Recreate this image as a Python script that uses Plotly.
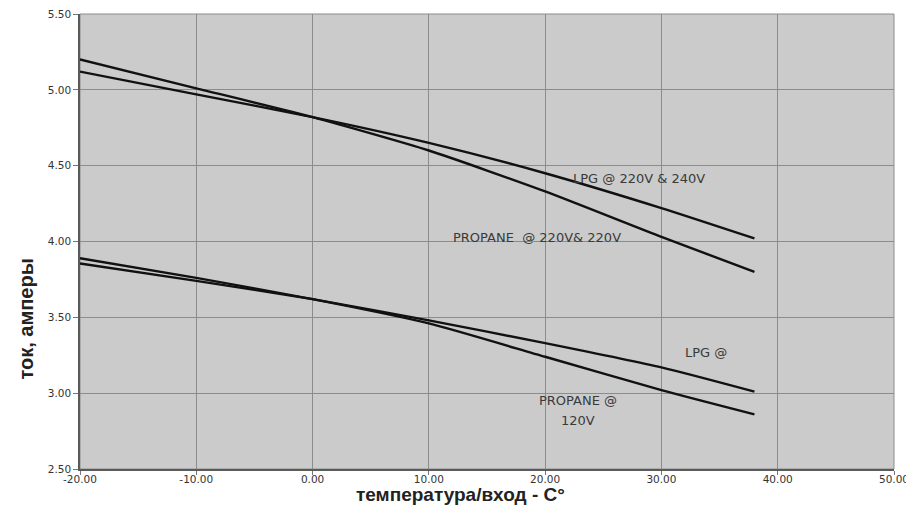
import plotly.graph_objects as go

temps = [-20, -10, 0, 10, 20, 30, 38]
lpg_220_240 = [5.12, 4.97, 4.82, 4.65, 4.45, 4.22, 4.02]
propane_220 = [5.20, 5.01, 4.82, 4.60, 4.33, 4.03, 3.80]
lpg_120 = [3.855, 3.74, 3.62, 3.48, 3.33, 3.17, 3.01]
propane_120 = [3.89, 3.76, 3.62, 3.46, 3.24, 3.02, 2.86]

x_ticks = [-20, -10, 0, 10, 20, 30, 40, 50]
y_ticks = [2.5, 3.0, 3.5, 4.0, 4.5, 5.0, 5.5]

labels = [
    ("LPG @ 220V & 240V", 28.1, 4.417, 13),
    ("PROPANE  @ 220V& 220V", 19.3, 4.024, 13),
    ("LPG @", 33.8, 3.266, 13),
    ("PROPANE @", 22.8, 2.95, 13),
    ("120V", 22.8, 2.818, 13),
]

fig = go.Figure()
for ys in [lpg_220_240, propane_220, lpg_120, propane_120]:
    fig.add_trace(go.Scatter(x=temps, y=ys, mode="lines", line=dict(color="#111111", width=2.4, shape="spline", smoothing=0.6), showlegend=False, hoverinfo="skip"))

for txt, x, y, s in labels:
    fig.add_annotation(x=x, y=y, text=txt, showarrow=False, font=dict(family="DejaVu Sans", size=s, color="#3a3a3a"), xanchor="center", yanchor="middle")

fig.add_annotation(xref="paper", yref="paper", x=0.468, y=-0.056, text="<b>температура/вход - C°</b>", showarrow=False, font=dict(family="Liberation Sans", size=19, color="#222222"), xanchor="center", yanchor="middle")
fig.add_annotation(xref="paper", yref="paper", x=-0.066, y=0.329, text="<b>ток, амперы</b>", textangle=-90, showarrow=False, font=dict(family="Liberation Sans", size=20, color="#222222"), xanchor="center", yanchor="middle")

# page body has an 8px margin: figure sized/offset so the plot area lands at the reference pixels
fig.update_layout(
    width=906, height=516,
    margin=dict(l=72, r=20, t=6, b=55),
    paper_bgcolor="white", plot_bgcolor="#cbcbcb",
    xaxis=dict(range=[-20, 50], tickvals=x_ticks, ticktext=[f"{v:.2f}" for v in x_ticks], automargin=False,
               showgrid=True, gridcolor="#8c8c8c", gridwidth=1, zeroline=False,
               showline=True, linecolor="#5a5a5a", linewidth=2, ticks="outside", ticklen=4, tickcolor="#777777",
               ticklabelstandoff=-5, ticklabeloverflow="allow",
               tickfont=dict(family="DejaVu Sans", size=10.5, color="#333333")),
    yaxis=dict(range=[2.5, 5.5], tickvals=y_ticks, ticktext=[f"{v:.2f}" for v in y_ticks], automargin=False,
               showgrid=True, gridcolor="#8c8c8c", gridwidth=1, zeroline=False,
               showline=True, linecolor="#5a5a5a", linewidth=1.5, ticks="outside", ticklen=5, tickcolor="#777777",
               ticklabeloverflow="allow",
               tickfont=dict(family="DejaVu Sans", size=10.5, color="#333333")),
)
fig.add_shape(type="rect", xref="paper", yref="paper", x0=0, y0=0, x1=1, y1=1, line=dict(color="#8c8c8c", width=1), layer="below")

fig.write_html("out.html")
